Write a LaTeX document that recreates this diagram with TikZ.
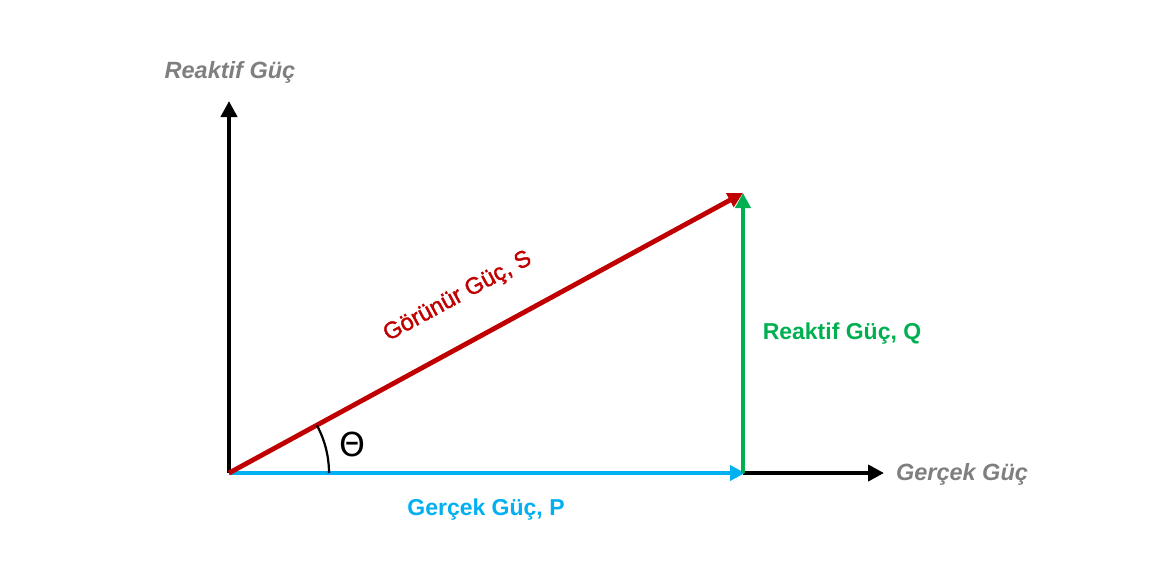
\documentclass[tikz,border=0pt]{standalone}
\usepackage{fontspec}
\setmainfont{Liberation Sans}
\newfontfamily\semibfont[FakeBold=1.5]{Liberation Sans}
\newfontfamily\thfont{DejaVu Sans}
\usetikzlibrary{arrows.meta}
\definecolor{sred}{HTML}{C00000}
\definecolor{qgreen}{HTML}{00B050}
\definecolor{pblue}{HTML}{00B0F0}
\definecolor{axgray}{HTML}{7F7F7F}
\begin{document}
\begin{tikzpicture}[x=1pt,y=-1pt,
  axis/.style={line width=4.5pt,black,-{Triangle[length=16pt,width=16pt]}},
  vec/.style={line width=4.8pt,-{Triangle[length=15pt,width=15pt]}},
  axlabel/.style={text=axgray,font=\fontsize{23.5}{26}\selectfont\bfseries\itshape},
  vlabel/.style={font=\fontsize{23}{26}\selectfont\bfseries}]
\useasboundingbox (0,0) rectangle (1167,566);
\coordinate (O) at (229,473);
\coordinate (Ytop) at (229,101);
\coordinate (Xend) at (884,473);
\coordinate (S) at (743,193);
\coordinate (P) at (745,473);
\coordinate (Pb) at (743,473);
\draw[axis] (O) -- (Ytop);
\draw[axis] (Pb) -- (Xend);
\draw[vec,pblue] (O) -- (P);
\draw[vec,qgreen] (Pb) -- (S);
\draw[vec,sred] (O) -- (S);
\draw[line width=2.2pt] (329,473) arc[start angle=0,end angle=-28.5,radius=100];
\node[axlabel] (ylab) at (230,72) {Reaktif Güç};
\node[axlabel] (xlab) at (962,474) {Gerçek Güç};
\node[vlabel,text=qgreen] (qlab) at (842,334) {Reaktif Güç, Q};
\node[vlabel,text=pblue] (plab) at (486,510) {Gerçek Güç, P};
\node[text=sred,font=\fontsize{23.5}{26}\semibfont,rotate=28.5] (slab) at (458,297) {Görünür Güç, S};
\node[font=\fontsize{33}{35}\thfont] (th) at (352,444) {Θ};
\end{tikzpicture}
\end{document}
